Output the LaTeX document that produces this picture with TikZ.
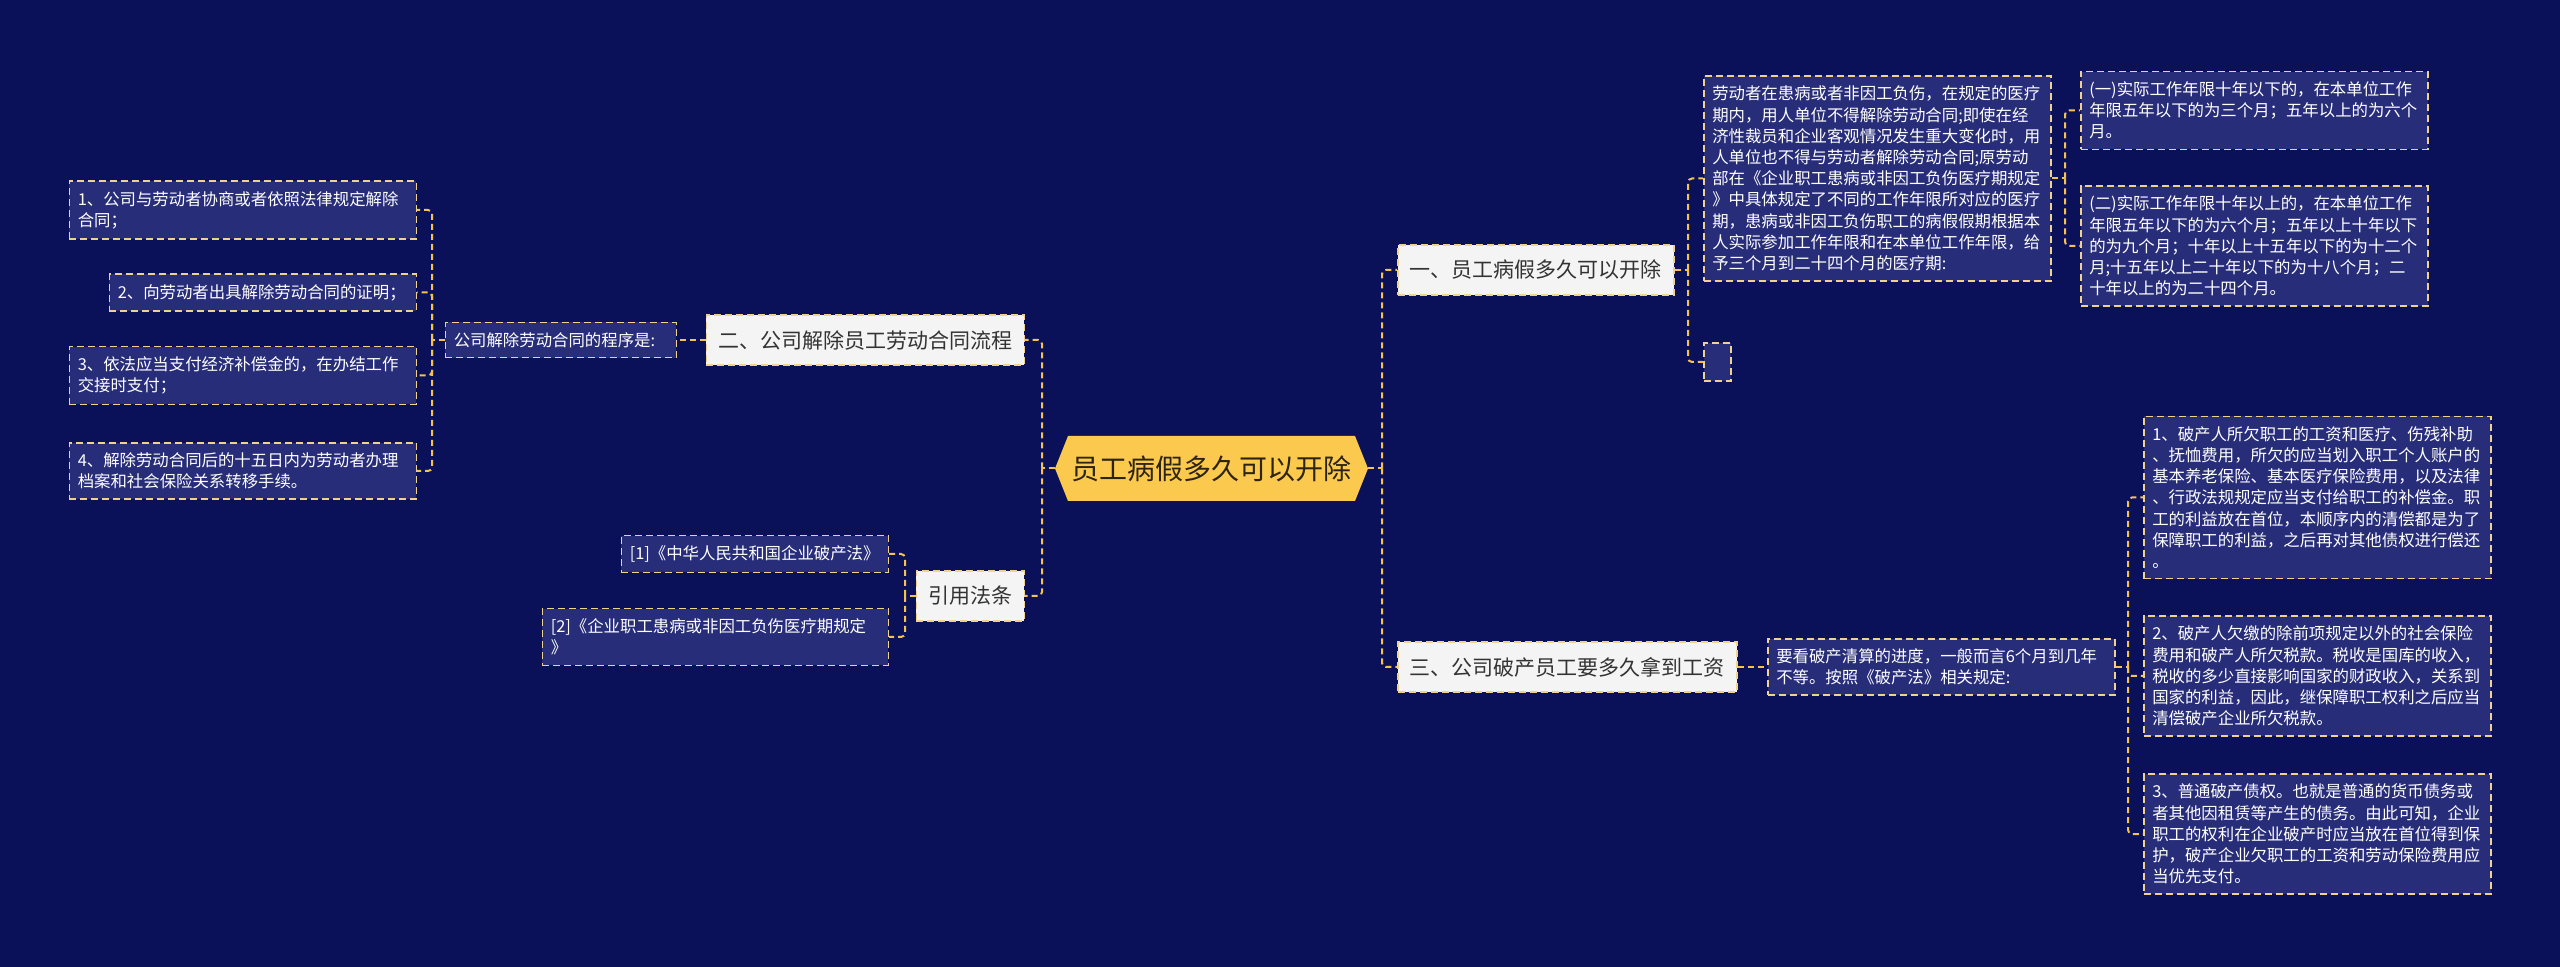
\documentclass[tikz,border=0pt]{standalone}
\usepackage{fontspec}
\setmainfont{Noto Sans CJK SC}
\usetikzlibrary{calc}
\definecolor{bg}{HTML}{0B1159}
\definecolor{boxfill}{HTML}{282D7A}
\definecolor{bord}{HTML}{F0D28C}
\definecolor{conn}{HTML}{F4C24F}
\definecolor{hex}{HTML}{FBC94D}
\definecolor{maintext}{HTML}{333333}
\definecolor{hextext}{HTML}{2D2410}
\definecolor{mainfill}{HTML}{F4F4F4}
\begin{document}
\begin{tikzpicture}[x=0.5pt,y=-0.5pt,
  darkbox/.style={fill=boxfill, draw=bord, line width=0.75pt, dash pattern=on 3.5pt off 2pt, text=white, font=\fontsize{8.2pt}{10.6pt}\selectfont, align=left, inner xsep=4.25pt, inner ysep=5pt},
  mainbox/.style={fill=mainfill, draw=bord, line width=0.75pt, dash pattern=on 3.5pt off 2pt, text=maintext, font=\fontsize{10.5pt}{12pt}\selectfont, inner xsep=6pt, minimum height=25pt},
  link/.style={draw=conn, line width=1pt, dash pattern=on 3pt off 2pt, rounded corners=2pt}]
\fill[bg] (0,0) rectangle (2560,967);
\useasboundingbox (0,0) rectangle (2560,967);

% central
\fill[hex] (1055,468.5) -- (1068,436) -- (1355,436) -- (1368,468.5) -- (1355,501) -- (1068,501) -- cycle;
\node[minimum width=156.5pt, minimum height=32.5pt, inner sep=0pt, text=hextext, font=\fontsize{14pt}{16pt}\selectfont] (c) at (1211.5,468.5) {员工病假多久可以开除};

% right main branches
\node[mainbox, anchor=west] (r1) at (1397,270) {一、员工病假多久可以开除};
\node[mainbox, anchor=west] (r3) at (1397,667) {三、公司破产员工要多久拿到工资};

% left main branches
\node[mainbox, anchor=east] (l2) at (1025,340) {二、公司解除员工劳动合同流程};
\node[mainbox, anchor=east] (ref) at (1025,596) {引用法条};

% branch 1 children
\node[darkbox, text width=165pt, anchor=west] (r1a) at (1703,178.5) {劳动者在患病或者非因工负伤，在规定的医疗\\期内，用人单位不得解除劳动合同;即使在经\\济性裁员和企业客观情况发生重大变化时，用\\人单位也不得与劳动者解除劳动合同;原劳动\\部在《企业职工患病或非因工负伤医疗期规定\\》中具体规定了不同的工作年限所对应的医疗\\期，患病或非因工负伤职工的病假假期根据本\\人实际参加工作年限和在本单位工作年限，给\\予三个月到二十四个月的医疗期:};
\node[fill=boxfill, draw=bord, line width=0.75pt, dash pattern=on 3.5pt off 2pt, minimum width=13.5pt, minimum height=19pt, inner sep=0pt, anchor=west] (r1b) at (1703,362) {};
\node[darkbox, text width=165pt, anchor=west] (r1aa) at (2080,110.5) {(一)实际工作年限十年以下的，在本单位工作\\年限五年以下的为三个月；五年以上的为六个\\月。};
\node[darkbox, text width=165pt, anchor=west] (r1ab) at (2080,246) {(二)实际工作年限十年以上的，在本单位工作\\年限五年以下的为六个月；五年以上十年以下\\的为九个月；十年以上十五年以下的为十二个\\月;十五年以上二十年以下的为十八个月；二\\十年以上的为二十四个月。};

% branch 3 children
\node[darkbox, text width=165pt, anchor=west] (r3a) at (1767,667) {要看破产清算的进度，一般而言6个月到几年\\不等。按照《破产法》相关规定:};
\node[darkbox, text width=165pt, anchor=west] (r3aa) at (2143,497.5) {1、破产人所欠职工的工资和医疗、伤残补助\\、抚恤费用，所欠的应当划入职工个人账户的\\基本养老保险、基本医疗保险费用，以及法律\\、行政法规规定应当支付给职工的补偿金。职\\工的利益放在首位，本顺序内的清偿都是为了\\保障职工的利益，之后再对其他债权进行偿还\\。};
\node[darkbox, text width=165pt, anchor=west] (r3ab) at (2143,676) {2、破产人欠缴的除前项规定以外的社会保险\\费用和破产人所欠税款。税收是国库的收入，\\税收的多少直接影响国家的财政收入，关系到\\国家的利益，因此，继保障职工权利之后应当\\清偿破产企业所欠税款。};
\node[darkbox, text width=165pt, anchor=west] (r3ac) at (2143,834) {3、普通破产债权。也就是普通的货币债务或\\者其他因租赁等产生的债务。由此可知，企业\\职工的权利在企业破产时应当放在首位得到保\\护，破产企业欠职工的工资和劳动保险费用应\\当优先支付。};

% branch 2 children
\node[darkbox, text width=107pt, anchor=east] (l2a) at (677,340) {公司解除劳动合同的程序是:};
\node[darkbox, text width=165pt, anchor=east] (l2aa) at (417,210) {1、公司与劳动者协商或者依照法律规定解除\\合同；};
\node[darkbox, text width=145pt, anchor=east] (l2ab) at (417,292.5) {2、向劳动者出具解除劳动合同的证明；};
\node[darkbox, text width=165pt, anchor=east] (l2ac) at (417,375.5) {3、依法应当支付经济补偿金的，在办结工作\\交接时支付；};
\node[darkbox, text width=165pt, anchor=east] (l2ad) at (417,471) {4、解除劳动合同后的十五日内为劳动者办理\\档案和社会保险关系转移手续。};

% references
\node[darkbox, text width=125pt, anchor=east] (ref1) at (889,554) {[1]《中华人民共和国企业破产法》};
\node[darkbox, text width=164.5pt, anchor=east] (ref2) at (889,637) {[2]《企业职工患病或非因工负伤医疗期规定\\》};

% connectors
\coordinate (jl) at (1042,468.5);
\coordinate (jr) at (1382,468.5);
\draw[link] (c.west) -- (jl);
\draw[link] (c.east) -- (jr);
\draw[link] (jr) |- (r1.west);
\draw[link] (jr) |- (r3.west);
\draw[link] (jl) |- (l2.east);
\draw[link] (jl) |- (ref.east);

\coordinate (j1) at (1688,270);
\draw[link] (r1.east) -- (j1);
\draw[link] (j1) |- (r1a.west);
\draw[link] (j1) |- (r1b.west);
\coordinate (j1a) at (2065,178.5);
\draw[link] (r1a.east) -- (j1a);
\draw[link] (j1a) |- (r1aa.west);
\draw[link] (j1a) |- (r1ab.west);

\draw[link] (r3.east) -- (r3a.west);
\coordinate (j3a) at (2128,667);
\draw[link] (r3a.east) -- (j3a);
\draw[link] (j3a) |- (r3aa.west);
\draw[link] (j3a) |- (r3ab.west);
\draw[link] (j3a) |- (r3ac.west);

\draw[link] (l2.west) -- (l2a.east);
\coordinate (j2a) at (432,340);
\draw[link] (l2a.west) -- (j2a);
\draw[link] (j2a) |- (l2aa.east);
\draw[link] (j2a) |- (l2ab.east);
\draw[link] (j2a) |- (l2ac.east);
\draw[link] (j2a) |- (l2ad.east);

\coordinate (jref) at (905,596);
\draw[link] (ref.west) -- (jref);
\draw[link] (jref) |- (ref1.east);
\draw[link] (jref) |- (ref2.east);
\end{tikzpicture}
\end{document}
